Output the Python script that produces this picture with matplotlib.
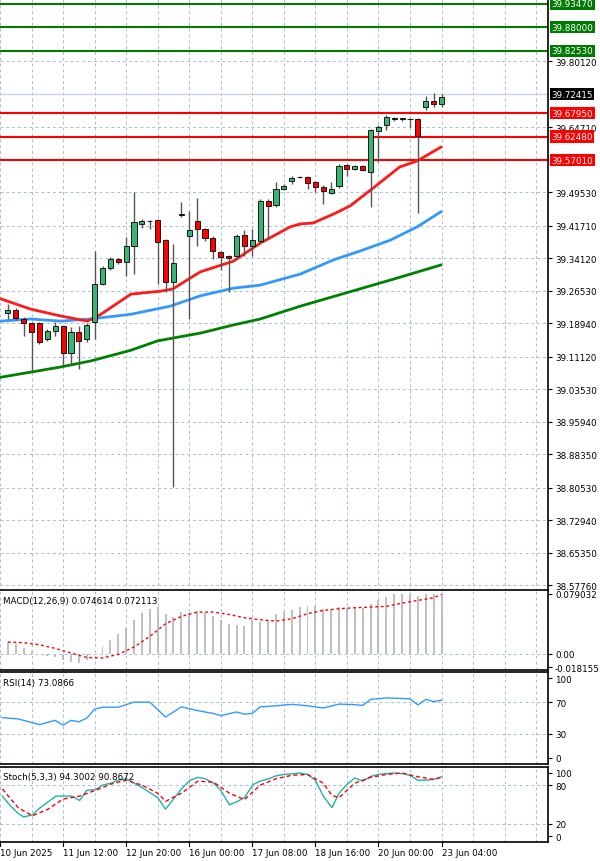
import numpy as np
import matplotlib.pyplot as plt

# ---- candles (open, high, low, close) ----
opens = [39.213, 39.220, 39.199, 39.189, 39.189, 39.152, 39.171, 39.182, 39.119, 39.168,
         39.152, 39.192, 39.281, 39.318, 39.339, 39.332, 39.369, 39.421, 39.428, 39.430,
         39.383, 39.285, 39.444, 39.393, 39.428, 39.409, 39.388, 39.355, 39.346, 39.346,
         39.395, 39.369, 39.381, 39.474, 39.465, 39.502, 39.521, 39.530, 39.530, 39.519,
         39.507, 39.493, 39.509, 39.558, 39.549, 39.556, 39.542, 39.638, 39.652, 39.668,
         39.667, 39.666, 39.666, 39.694, 39.708, 39.701]
highs = [39.234, 39.225, 39.203, 39.192, 39.192, 39.175, 39.192, 39.185, 39.180, 39.182,
         39.190, 39.358, 39.323, 39.344, 39.342, 39.390, 39.495, 39.432, 39.430, 39.432,
         39.386, 39.374, 39.472, 39.451, 39.481, 39.411, 39.393, 39.358, 39.349, 39.397,
         39.407, 39.409, 39.479, 39.479, 39.519, 39.514, 39.532, 39.532, 39.533, 39.521,
         39.512, 39.519, 39.561, 39.561, 39.558, 39.558, 39.642, 39.652, 39.675, 39.670,
         39.668, 39.668, 39.668, 39.720, 39.727, 39.724]
lows = [39.199, 39.197, 39.159, 39.077, 39.140, 39.148, 39.159, 39.089, 39.094, 39.082,
        39.145, 39.152, 39.278, 39.313, 39.327, 39.299, 39.304, 39.411, 39.409, 39.281,
        39.262, 38.806, 39.437, 39.199, 39.369, 39.381, 39.340, 39.313, 39.262, 39.340,
        39.346, 39.346, 39.376, 39.386, 39.460, 39.500, 39.514, 39.528, 39.502, 39.495,
        39.467, 39.490, 39.505, 39.533, 39.547, 39.544, 39.460, 39.565, 39.640, 39.661,
        39.661, 39.647, 39.446, 39.687, 39.694, 39.694]
closes = [39.220, 39.201, 39.189, 39.168, 39.145, 39.171, 39.182, 39.119, 39.168, 39.147,
          39.185, 39.281, 39.318, 39.339, 39.332, 39.369, 39.425, 39.428, 39.427, 39.379,
          39.285, 39.330, 39.442, 39.407, 39.409, 39.388, 39.358, 39.344, 39.342, 39.393,
          39.369, 39.383, 39.474, 39.463, 39.502, 39.509, 39.528, 39.531, 39.516, 39.507,
          39.498, 39.502, 39.556, 39.549, 39.556, 39.547, 39.640, 39.647, 39.670, 39.667,
          39.666, 39.665, 39.626, 39.708, 39.701, 39.717]

# ---- moving averages (candle index, price) ----
ma_red_x = [-0.9, 2.9, 6.7, 10.1, 11.8, 15.6, 19.4, 20.9, 24.4, 28.6, 32, 35.8, 37.1, 38.7, 41.3, 43.4, 46, 49.7, 51.9, 54.9]
ma_red_y = [39.246, 39.222, 39.206, 39.194, 39.210, 39.257, 39.264, 39.269, 39.309, 39.334, 39.376, 39.414, 39.421,
            39.423, 39.444, 39.463, 39.500, 39.554, 39.568, 39.600]
ma_blue_x = [-0.9, 2.9, 6.7, 10.5, 15.6, 20.6, 24.4, 28.6, 32, 37.1, 41.3, 44.7, 48.5, 51.9, 54.9]
ma_blue_y = [39.194, 39.199, 39.194, 39.199, 39.210, 39.229, 39.253, 39.271, 39.278, 39.304, 39.337, 39.358,
             39.383, 39.414, 39.449]
ma_green_x = [-0.9, 2.9, 6.7, 10.5, 15.6, 19, 24.4, 28.6, 32, 37.1, 48.9, 54.9]
ma_green_y = [39.063, 39.075, 39.087, 39.101, 39.126, 39.148, 39.166, 39.185, 39.199, 39.229, 39.292, 39.325]

green_levels = [39.9347, 39.8800, 39.8253]
red_levels = [39.6795, 39.6248, 39.5701]
current_price = 39.72415
price_ticks = [39.80120, 39.64710, 39.49530, 39.41710, 39.34120, 39.26530, 39.18940, 39.11120,
               39.03530, 38.95940, 38.88350, 38.80530, 38.72940, 38.65350, 38.57760]

# ---- MACD ----
macd_hist = [0.0154, 0.0132, 0.0079, 0.0030, 0.0000, -0.0035, -0.0044, -0.0088, -0.0110, -0.0123,
             -0.0088, -0.0009, 0.0088, 0.0176, 0.0255, 0.0342, 0.0448, 0.0536, 0.0593, 0.0615,
             0.0518, 0.0483, 0.0549, 0.0536, 0.0558, 0.0536, 0.0492, 0.0448, 0.0386, 0.0382,
             0.0360, 0.0448, 0.0417, 0.0448, 0.0527, 0.0549, 0.0580, 0.0615, 0.0624, 0.0624,
             0.0593, 0.0593, 0.0615, 0.0606, 0.0615, 0.0606, 0.0650, 0.0703, 0.0747, 0.0782,
             0.0782, 0.0782, 0.0755, 0.0782, 0.0782, 0.0790]
macd_sig_x = [0, 2, 4, 6, 8, 10, 12, 14, 16, 18, 20, 22, 24, 26, 28, 30, 32, 34, 36, 38, 40, 42, 44, 46, 48, 50, 52, 54, 55]
macd_sig = [0.0154, 0.0145, 0.0118, 0.0070, 0.0009, -0.0050, -0.0057, -0.0009, 0.0088, 0.0228, 0.0395,
            0.0492, 0.0549, 0.0549, 0.0518, 0.0474, 0.0448, 0.0430, 0.0461, 0.0527, 0.0571, 0.0593,
            0.0606, 0.0615, 0.0624, 0.0667, 0.0703, 0.0738, 0.0782]

# ---- RSI ----
rsi_x = [-0.7, 1.3, 4, 6, 7, 8, 9, 10, 11, 12, 14, 16, 18, 20, 22, 24, 26, 27, 29, 30, 31, 32, 34, 36,
         38, 40, 42, 44, 45, 46, 48, 50, 51, 52, 53, 54, 55]
rsi = [50.5, 48.8, 41.7, 47.0, 41.0, 47.0, 45.2, 49.8, 61.2, 63.6, 63.6, 70.0, 70.0, 51.2, 64.0, 59.4,
       55.8, 53.0, 57.6, 54.8, 55.8, 64.0, 65.4, 67.2, 65.4, 62.6, 67.5, 66.8, 65.8, 73.5, 75.3, 74.6,
       74.2, 66.5, 73.5, 70.7, 72.5]

# ---- Stochastic ----
stk_x = [-0.7, 0.2, 1.3, 2, 3.1, 4.1, 6.1, 8.1, 9.1, 10, 11.1, 12, 13.1, 14, 15, 17, 19, 20, 22, 23.1,
         24.1, 25, 26.1, 27, 28.1, 29, 30, 31.1, 32, 33.1, 34, 35, 36, 37, 38, 39, 40, 41.1, 42, 43,
         44, 45, 46, 47, 48, 49, 50, 51, 52, 53, 54, 55]
stk_k = [63.2, 49.5, 35.9, 30.5, 33.6, 45.0, 63.2, 63.2, 56.4, 72.3, 73.2, 80.5, 83.6, 88.2, 90.5, 76.8,
         60.9, 42.7, 74.5, 88.2, 92.7, 90.5, 83.6, 72.3, 49.5, 54.1, 60.9, 81.4, 86.8, 90.5, 95.0, 97.3,
         98.2, 99.5, 97.3, 88.2, 63.2, 45.0, 67.7, 81.4, 91.8, 86.8, 94.1, 97.3, 98.6, 99.5, 98.6, 95.9,
         88.2, 88.2, 89.5, 93.6]
std_x = [-0.7, 1.3, 3.1, 5.1, 7, 9.1, 11.1, 13.1, 15, 17, 19, 20, 22, 24.1, 26.1, 28.1, 30, 32, 34, 36,
         38, 40, 41.1, 42, 44, 46, 48, 50, 52, 54, 55]
std_d = [74.5, 45.0, 32.3, 42.7, 58.6, 63.2, 72.3, 82.3, 88.2, 80.5, 67.7, 55.0, 67.7, 86.8, 85.0, 67.7,
         57.7, 80.5, 90.5, 95.9, 97.3, 83.6, 64.1, 60.9, 83.6, 92.7, 97.3, 99.5, 93.6, 89.5, 92.7]

x_labels = ["10 Jun 2025", "11 Jun 12:00", "12 Jun 20:00", "16 Jun 00:00", "17 Jun 08:00",
            "18 Jun 16:00", "20 Jun 00:00", "23 Jun 04:00"]

GRID = dict(color="#a9bcd6", linestyle=(0, (3, 3)), linewidth=0.7)
XMIN, XMAX = -0.9, 68.5
FS = 6.3

fig = plt.figure(figsize=(6, 8.62), dpi=100)
W = 548 / 600


def panel(top_px, bot_px):
    ax = fig.add_axes([0, 1 - bot_px / 862, W, (bot_px - top_px) / 862])
    ax.set_xlim(XMIN, XMAX)
    ax.yaxis.tick_right()
    ax.tick_params(axis="y", labelsize=FS, length=3, pad=2)
    ax.tick_params(axis="x", length=0, labelbottom=False)
    for s in ax.spines.values():
        s.set_linewidth(1.2)
    ax.spines["left"].set_visible(False)
    ax.set_xticks(np.arange(-1, 68, 4))
    ax.grid(axis="x", **GRID)
    return ax


def price_box(ax, lvl, txt, fc):
    ax.text(1.006, lvl, txt, transform=ax.get_yaxis_transform(), fontsize=FS, color="white",
            va="center", ha="left", bbox=dict(fc=fc, ec="none", pad=1.2), clip_on=False)


# ---------- main price panel ----------
ax = panel(0, 592)
ax.spines["top"].set_visible(False)
ax.set_ylim(38.564, 39.946)
ax.set_yticks(price_ticks)
ax.set_yticklabels([f"{v:.5f}" for v in price_ticks])
ax.grid(axis="y", **GRID)

for lvl in green_levels:
    ax.axhline(lvl, color="#007a00", lw=1.5)
    price_box(ax, lvl, f"{lvl:.5f}", "#007a00")
for lvl in red_levels:
    ax.axhline(lvl, color="#ff0000", lw=1.5)
    price_box(ax, lvl, f"{lvl:.5f}", "#ff0000")
ax.axhline(current_price, color="#c8d4e4", lw=1)
price_box(ax, current_price, f"{current_price:.5f}", "black")

ax.plot(ma_green_x, ma_green_y, color="#008000", lw=2, zorder=3)
ax.plot(ma_blue_x, ma_blue_y, color="#3399ff", lw=2, zorder=3)
ax.plot(ma_red_x, ma_red_y, color="#ff1a1a", lw=2, zorder=3)

for i, (o, h, l, c) in enumerate(zip(opens, highs, lows, closes)):
    ax.vlines(i, l, h, color="#555555", lw=1, zorder=4)
    col = "#3cb371" if c >= o else "#ff0000"
    lo, hi = min(o, c), max(o, c)
    ax.bar(i, max(hi - lo, 0.0012), bottom=lo, width=0.65, color=col, edgecolor="black", lw=0.6, zorder=5)

# ---------- MACD ----------
ax2 = panel(591, 671)
ax2.set_ylim(-0.0215, 0.084)
ax2.set_yticks([0.079032, 0.0, -0.018155])
ax2.set_yticklabels(["0.079032", "0.00", "-0.018155"])
ax2.axhline(0, **GRID)
ax2.bar(range(len(macd_hist)), macd_hist, width=0.25, color="#c0c0c0")
ax2.plot(macd_sig_x, macd_sig, color="#ff0000", lw=1, linestyle=(0, (2, 2)))
ax2.text(0.005, 0.93, "MACD(12,26,9) 0.074614 0.072113", transform=ax2.transAxes, fontsize=FS, va="top")

# ---------- RSI ----------
ax3 = panel(673, 765)
ax3.set_ylim(-8, 108)
ax3.set_yticks([100, 70, 30, 0])
for lv in (70, 30):
    ax3.axhline(lv, **GRID)
ax3.plot(rsi_x, rsi, color="#3399ff", lw=1)
ax3.text(0.005, 0.93, "RSI(14) 73.0866", transform=ax3.transAxes, fontsize=FS, va="top")

# ---------- Stochastic ----------
ax4 = panel(768, 843)
ax4.set_ylim(-9, 109)
ax4.set_yticks([100, 80, 20, 0])
for lv in (80, 20):
    ax4.axhline(lv, **GRID)
ax4.plot(stk_x, stk_k, color="#20b2aa", lw=1)
ax4.plot(std_x, std_d, color="#ff0000", lw=1, linestyle=(0, (3, 2)))
ax4.text(0.005, 0.93, "Stoch(5,3,3) 94.3002 90.8672", transform=ax4.transAxes, fontsize=FS, va="top")
for j, lab in enumerate(x_labels):
    ax4.text(-1 + 8 * j, -0.08, lab, transform=ax4.get_xaxis_transform(), fontsize=FS,
             ha="left", va="top")
    ax4.plot([-1 + 8 * j] * 2, [-0.05, 0], transform=ax4.get_xaxis_transform(), color="black",
             lw=0.8, clip_on=False)

fig.savefig("out.png", dpi=100)
